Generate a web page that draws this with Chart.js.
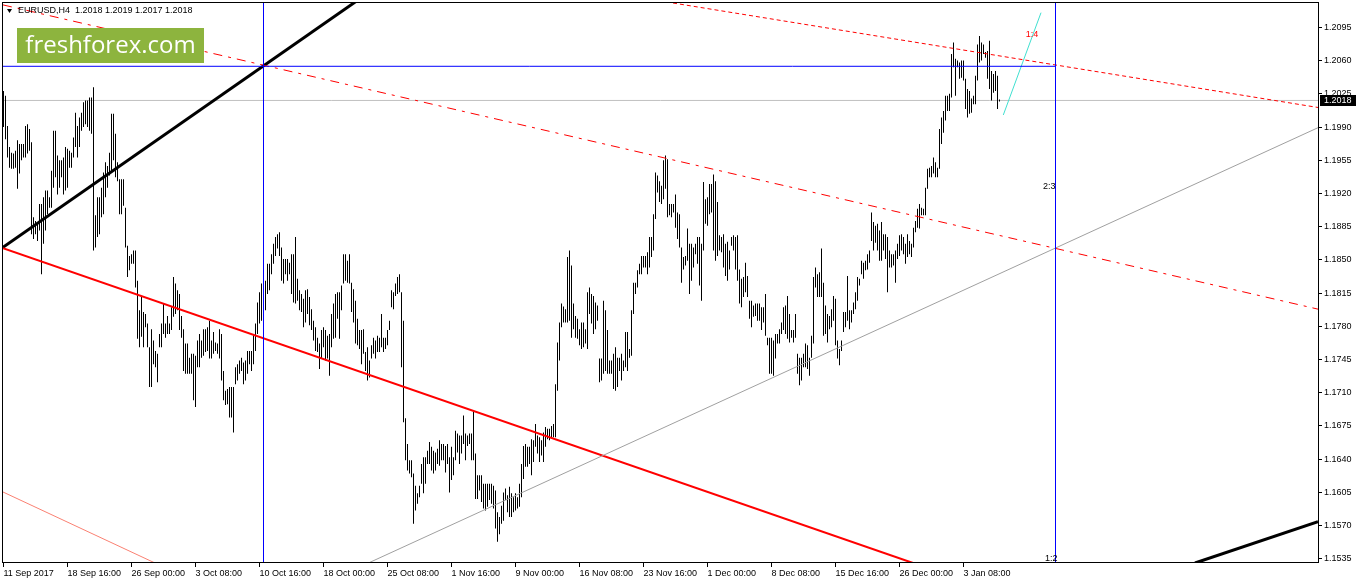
<!DOCTYPE html>
<html>
<head>
<meta charset="utf-8">
<title>EURUSD,H4</title>
<script src="https://cdn.jsdelivr.net/npm/chart.js@4.4.1/dist/chart.umd.min.js"></script>
<style>
  html, body { margin: 0; padding: 0; background: #fff; }
  canvas { display: block; }
</style>
</head>
<body>
<canvas id="chart" width="1358" height="584"></canvas>
<script>
// ============================================================
// DATA — EURUSD H4
// ============================================================
const symbolName = 'EURUSD,H4';
const lastBar = [1.2018, 1.2019, 1.2017, 1.2018]; // open high low close

const highs = [
  1.2028, 1.2023, 1.1991, 1.1969, 1.1963, 1.1962, 1.1965, 1.1976, 1.1972, 1.1972,
  1.1972, 1.1991, 1.1993, 1.1988, 1.1974, 1.1895, 1.1891, 1.1888, 1.1909, 1.1909,
  1.1916, 1.1923, 1.1923, 1.1916, 1.1944, 1.1986, 1.1986, 1.1960, 1.1955, 1.1955,
  1.1958, 1.1969, 1.1967, 1.1965, 1.1963, 1.1979, 1.2005, 1.1991, 1.2000, 1.2005,
  1.2016, 1.2018, 1.2018, 1.2021, 1.2021, 1.2032, 1.1897, 1.1916, 1.1916, 1.1926,
  1.1942, 1.1953, 1.1949, 1.1963, 1.2004, 1.2004, 1.1983, 1.1953, 1.1935, 1.1935,
  1.1935, 1.1905, 1.1865, 1.1854, 1.1856, 1.1860, 1.1860, 1.1828, 1.1797, 1.1812,
  1.1795, 1.1793, 1.1783, 1.1758, 1.1777, 1.1765, 1.1754, 1.1751, 1.1772, 1.1783,
  1.1804, 1.1783, 1.1791, 1.1783, 1.1800, 1.1832, 1.1825, 1.1818, 1.1814, 1.1791,
  1.1777, 1.1762, 1.1762, 1.1747, 1.1751, 1.1751, 1.1749, 1.1765, 1.1772, 1.1765,
  1.1777, 1.1777, 1.1779, 1.1786, 1.1765, 1.1774, 1.1763, 1.1762, 1.1777, 1.1772,
  1.1733, 1.1712, 1.1714, 1.1716, 1.1716, 1.1716, 1.1737, 1.1740, 1.1744, 1.1747,
  1.1742, 1.1744, 1.1754, 1.1754, 1.1754, 1.1772, 1.1783, 1.1805, 1.1816, 1.1825,
  1.1825, 1.1828, 1.1846, 1.1846, 1.1856, 1.1867, 1.1874, 1.1877, 1.1879, 1.1863,
  1.1851, 1.1851, 1.1851, 1.1847, 1.1856, 1.1856, 1.1874, 1.1830, 1.1818, 1.1814,
  1.1809, 1.1818, 1.1819, 1.1811, 1.1798, 1.1786, 1.1779, 1.1768, 1.1762, 1.1776,
  1.1779, 1.1776, 1.1770, 1.1772, 1.1793, 1.1804, 1.1814, 1.1816, 1.1816, 1.1823,
  1.1856, 1.1856, 1.1849, 1.1856, 1.1826, 1.1819, 1.1807, 1.1788, 1.1776, 1.1776,
  1.1777, 1.1753, 1.1758, 1.1744, 1.1760, 1.1768, 1.1765, 1.1770, 1.1768, 1.1793,
  1.1768, 1.1768, 1.1776, 1.1786, 1.1818, 1.1816, 1.1825, 1.1832, 1.1835, 1.1816,
  1.1786, 1.1683, 1.1656, 1.1639, 1.1639, 1.1625, 1.1612, 1.1604, 1.1612, 1.1635,
  1.1642, 1.1642, 1.1649, 1.1658, 1.1653, 1.1649, 1.1647, 1.1651, 1.1660, 1.1656,
  1.1656, 1.1654, 1.1656, 1.1642, 1.1653, 1.1642, 1.1670, 1.1667, 1.1665, 1.1665,
  1.1686, 1.1667, 1.1665, 1.1667, 1.1667, 1.1691, 1.1646, 1.1623, 1.1623, 1.1623,
  1.1614, 1.1614, 1.1614, 1.1614, 1.1614, 1.1612, 1.1607, 1.1584, 1.1579, 1.1591,
  1.1605, 1.1609, 1.1602, 1.1611, 1.1604, 1.1600, 1.1604, 1.1600, 1.1614, 1.1635,
  1.1654, 1.1656, 1.1653, 1.1653, 1.1661, 1.1660, 1.1677, 1.1665, 1.1663, 1.1660,
  1.1668, 1.1674, 1.1672, 1.1672, 1.1675, 1.1677, 1.1719, 1.1763, 1.1784, 1.1804,
  1.1801, 1.1798, 1.1853, 1.1860, 1.1844, 1.1804, 1.1791, 1.1788, 1.1777, 1.1784,
  1.1784, 1.1777, 1.1816, 1.1821, 1.1814, 1.1812, 1.1805, 1.1802, 1.1746, 1.1746,
  1.1807, 1.1797, 1.1776, 1.1744, 1.1744, 1.1751, 1.1758, 1.1747, 1.1747, 1.1751,
  1.1744, 1.1774, 1.1774, 1.1756, 1.1797, 1.1826, 1.1826, 1.1839, 1.1846, 1.1854,
  1.1854, 1.1854, 1.1858, 1.1874, 1.1874, 1.1898, 1.1942, 1.1939, 1.1933, 1.1928,
  1.1955, 1.1960, 1.1956, 1.1909, 1.1909, 1.1909, 1.1919, 1.1900, 1.1898, 1.1863,
  1.1853, 1.1854, 1.1883, 1.1867, 1.1867, 1.1863, 1.1867, 1.1874, 1.1874, 1.1867,
  1.1932, 1.1914, 1.1916, 1.1930, 1.1930, 1.1940, 1.1933, 1.1911, 1.1876, 1.1874,
  1.1877, 1.1867, 1.1869, 1.1860, 1.1874, 1.1876, 1.1874, 1.1876, 1.1840, 1.1830,
  1.1832, 1.1847, 1.1833, 1.1807, 1.1807, 1.1802, 1.1804, 1.1804, 1.1804, 1.1800,
  1.1800, 1.1814, 1.1768, 1.1768, 1.1768, 1.1765, 1.1772, 1.1772, 1.1777, 1.1784,
  1.1800, 1.1802, 1.1812, 1.1793, 1.1776, 1.1776, 1.1793, 1.1751, 1.1747, 1.1747,
  1.1751, 1.1762, 1.1760, 1.1747, 1.1770, 1.1832, 1.1842, 1.1835, 1.1837, 1.1862,
  1.1826, 1.1802, 1.1793, 1.1791, 1.1798, 1.1812, 1.1809, 1.1765, 1.1756, 1.1765,
  1.1795, 1.1795, 1.1833, 1.1797, 1.1797, 1.1805, 1.1816, 1.1832, 1.1830, 1.1849,
  1.1847, 1.1849, 1.1856, 1.1860, 1.1900, 1.1890, 1.1886, 1.1888, 1.1881, 1.1890,
  1.1877, 1.1877, 1.1874, 1.1860, 1.1856, 1.1856, 1.1860, 1.1867, 1.1876, 1.1877,
  1.1874, 1.1867, 1.1877, 1.1870, 1.1867, 1.1884, 1.1891, 1.1904, 1.1909, 1.1905,
  1.1904, 1.1926, 1.1946, 1.1947, 1.1949, 1.1958, 1.1953, 1.1947, 1.1988, 1.2000,
  1.2007, 1.2023, 1.2023, 1.2025, 1.2067, 1.2079, 1.2062, 1.2060, 1.2058, 1.2060,
  1.2060, 1.2041, 1.2030, 1.2028, 1.2020, 1.2023, 1.2044, 1.2077, 1.2086, 1.2079,
  1.2077, 1.2069, 1.2070, 1.2081, 1.2049, 1.2046, 1.2049, 1.2044, 1.2019
];

const lows = [
  1.1990, 1.1977, 1.1958, 1.1947, 1.1946, 1.1946, 1.1947, 1.1925, 1.1941, 1.1955,
  1.1958, 1.1958, 1.1962, 1.1965, 1.1877, 1.1872, 1.1877, 1.1870, 1.1881, 1.1835,
  1.1867, 1.1881, 1.1898, 1.1905, 1.1905, 1.1926, 1.1937, 1.1919, 1.1926, 1.1937,
  1.1919, 1.1923, 1.1926, 1.1947, 1.1947, 1.1958, 1.1969, 1.1958, 1.1969, 1.1986,
  1.1990, 1.1993, 1.1990, 1.1986, 1.1983, 1.1860, 1.1863, 1.1874, 1.1877, 1.1895,
  1.1898, 1.1916, 1.1926, 1.1939, 1.1944, 1.1955, 1.1937, 1.1933, 1.1898, 1.1898,
  1.1907, 1.1863, 1.1832, 1.1839, 1.1846, 1.1846, 1.1821, 1.1767, 1.1758, 1.1769,
  1.1758, 1.1779, 1.1758, 1.1716, 1.1716, 1.1740, 1.1737, 1.1721, 1.1758, 1.1758,
  1.1772, 1.1768, 1.1772, 1.1772, 1.1776, 1.1790, 1.1793, 1.1797, 1.1776, 1.1768,
  1.1733, 1.1730, 1.1730, 1.1730, 1.1730, 1.1702, 1.1695, 1.1737, 1.1737, 1.1747,
  1.1749, 1.1753, 1.1754, 1.1746, 1.1746, 1.1751, 1.1754, 1.1751, 1.1746, 1.1723,
  1.1702, 1.1697, 1.1698, 1.1684, 1.1684, 1.1668, 1.1719, 1.1723, 1.1730, 1.1733,
  1.1719, 1.1723, 1.1730, 1.1740, 1.1733, 1.1740, 1.1754, 1.1772, 1.1783, 1.1786,
  1.1800, 1.1797, 1.1814, 1.1818, 1.1835, 1.1846, 1.1854, 1.1862, 1.1854, 1.1828,
  1.1825, 1.1835, 1.1828, 1.1835, 1.1814, 1.1805, 1.1804, 1.1807, 1.1797, 1.1795,
  1.1779, 1.1784, 1.1793, 1.1781, 1.1776, 1.1765, 1.1754, 1.1753, 1.1735, 1.1746,
  1.1758, 1.1744, 1.1746, 1.1728, 1.1758, 1.1767, 1.1768, 1.1788, 1.1767, 1.1797,
  1.1825, 1.1828, 1.1826, 1.1825, 1.1795, 1.1784, 1.1762, 1.1760, 1.1756, 1.1740,
  1.1751, 1.1733, 1.1723, 1.1726, 1.1746, 1.1751, 1.1746, 1.1753, 1.1753, 1.1758,
  1.1753, 1.1756, 1.1760, 1.1776, 1.1800, 1.1798, 1.1812, 1.1814, 1.1816, 1.1737,
  1.1679, 1.1639, 1.1628, 1.1625, 1.1621, 1.1572, 1.1586, 1.1593, 1.1600, 1.1614,
  1.1604, 1.1614, 1.1635, 1.1635, 1.1628, 1.1625, 1.1628, 1.1635, 1.1633, 1.1639,
  1.1639, 1.1626, 1.1635, 1.1605, 1.1618, 1.1623, 1.1639, 1.1647, 1.1635, 1.1646,
  1.1656, 1.1639, 1.1654, 1.1656, 1.1639, 1.1639, 1.1598, 1.1598, 1.1607, 1.1595,
  1.1588, 1.1586, 1.1590, 1.1597, 1.1593, 1.1588, 1.1567, 1.1553, 1.1561, 1.1572,
  1.1575, 1.1597, 1.1584, 1.1579, 1.1579, 1.1584, 1.1586, 1.1588, 1.1590, 1.1600,
  1.1619, 1.1632, 1.1632, 1.1635, 1.1623, 1.1637, 1.1653, 1.1646, 1.1637, 1.1644,
  1.1637, 1.1653, 1.1661, 1.1660, 1.1663, 1.1663, 1.1663, 1.1712, 1.1744, 1.1779,
  1.1784, 1.1784, 1.1784, 1.1786, 1.1768, 1.1777, 1.1768, 1.1767, 1.1760, 1.1756,
  1.1758, 1.1762, 1.1756, 1.1793, 1.1783, 1.1772, 1.1777, 1.1786, 1.1721, 1.1723,
  1.1730, 1.1733, 1.1730, 1.1730, 1.1730, 1.1714, 1.1712, 1.1716, 1.1733, 1.1723,
  1.1733, 1.1737, 1.1733, 1.1747, 1.1749, 1.1793, 1.1814, 1.1821, 1.1835, 1.1835,
  1.1842, 1.1842, 1.1835, 1.1842, 1.1853, 1.1860, 1.1893, 1.1921, 1.1911, 1.1909,
  1.1914, 1.1925, 1.1895, 1.1897, 1.1895, 1.1900, 1.1884, 1.1872, 1.1863, 1.1826,
  1.1840, 1.1844, 1.1849, 1.1814, 1.1828, 1.1842, 1.1856, 1.1846, 1.1823, 1.1807,
  1.1860, 1.1888, 1.1886, 1.1898, 1.1900, 1.1860, 1.1849, 1.1854, 1.1860, 1.1858,
  1.1842, 1.1833, 1.1828, 1.1840, 1.1865, 1.1860, 1.1840, 1.1828, 1.1804, 1.1800,
  1.1811, 1.1816, 1.1811, 1.1788, 1.1779, 1.1790, 1.1791, 1.1786, 1.1786, 1.1776,
  1.1784, 1.1770, 1.1760, 1.1730, 1.1730, 1.1728, 1.1746, 1.1762, 1.1762, 1.1772,
  1.1776, 1.1772, 1.1767, 1.1763, 1.1768, 1.1763, 1.1768, 1.1730, 1.1718, 1.1723,
  1.1737, 1.1737, 1.1735, 1.1728, 1.1747, 1.1762, 1.1821, 1.1811, 1.1811, 1.1811,
  1.1770, 1.1772, 1.1763, 1.1777, 1.1779, 1.1786, 1.1760, 1.1746, 1.1739, 1.1754,
  1.1774, 1.1779, 1.1786, 1.1777, 1.1784, 1.1793, 1.1798, 1.1807, 1.1823, 1.1835,
  1.1830, 1.1839, 1.1840, 1.1847, 1.1870, 1.1860, 1.1868, 1.1860, 1.1849, 1.1849,
  1.1860, 1.1851, 1.1816, 1.1842, 1.1842, 1.1844, 1.1826, 1.1851, 1.1854, 1.1860,
  1.1856, 1.1846, 1.1853, 1.1856, 1.1853, 1.1863, 1.1879, 1.1884, 1.1883, 1.1897,
  1.1897, 1.1897, 1.1925, 1.1937, 1.1937, 1.1941, 1.1937, 1.1937, 1.1946, 1.1972,
  1.1984, 1.1997, 1.2007, 1.2007, 1.2021, 1.2053, 1.2023, 1.2053, 1.2041, 1.2042,
  1.2039, 1.2009, 1.2000, 1.2004, 1.2005, 1.2014, 1.2014, 1.2039, 1.2058, 1.2060,
  1.2067, 1.2063, 1.2041, 1.2030, 1.2018, 1.2026, 1.2028, 1.2009, 1.2017
];

// time axis: one label every 32 bars
const dateLabels = [
  '11 Sep 2017', '18 Sep 16:00', '26 Sep 00:00', '3 Oct 08:00', '10 Oct 16:00',
  '18 Oct 00:00', '25 Oct 08:00', '1 Nov 16:00', '9 Nov 00:00', '16 Nov 08:00',
  '23 Nov 16:00', '1 Dec 00:00', '8 Dec 08:00', '15 Dec 16:00', '26 Dec 00:00',
  '3 Jan 08:00'
];
const dateTickBars = [0, 32, 64, 96, 128, 160, 192, 224, 256, 288, 320, 352, 384, 416, 448, 480];

// price axis
const priceTicks = [
  1.1535, 1.1570, 1.1605, 1.1640, 1.1675, 1.1710, 1.1745, 1.1780, 1.1815,
  1.1850, 1.1885, 1.1920, 1.1955, 1.1990, 1.2025, 1.2060, 1.2095
];
const priceRange = [1.15306, 1.21207];
const barRange = [-0.25, 657.25];   // visible bar slots incl. the empty right shift

// drawn objects, as [bar index, price] pairs
const blackTrendUp     = [[-0.25, 1.18633], [176, 1.2122]];
const blackTrendLow    = [[595.75, 1.15306], [657.25, 1.15741]];
const redTrendDown     = [[-0.25, 1.18622], [454.75, 1.15306]];
const salmonTrend      = [[-0.25, 1.16054], [75.75, 1.15306]];
const redDashDotTrend  = [[-0.25, 1.21187], [657.25, 1.17981]];
const redDashTrend     = [[334.75, 1.21207], [657.25, 1.20106]];
const grayTrendUp      = [[182.45, 1.15306], [657.25, 1.19893]];
const cyanTrend        = [[499.9, 1.20027], [518.75, 1.21105]];
const blueLevel        = [[-0.25, 1.2054], [526, 1.2054]];
const bidLevel         = [[-0.25, 1.2018], [657.25, 1.2018]];
const verticalBars     = [130, 526];

const ratioTexts  = ['1:4', '2:3', '1:2'];
const ratioBars   = [514.25, 526, 527];
const ratioPrices = [1.2087, 1.19268, 1.15348];

// ============================================================
// CHART
// ============================================================
const axisFont = { family: "'Liberation Sans', Arial, sans-serif", size: 9 };
const FONT = "9px 'Liberation Sans', Arial, sans-serif";

function segment(points, color, width, dash, order) {
  return {
    type: 'line',
    data: points.map(([x, y]) => ({ x, y })),
    borderColor: color,
    borderWidth: width,
    borderDash: dash || [],
    pointRadius: 0,
    tension: 0,
    fill: false,
    clip: 0,
    order: order || 1
  };
}

const datasets = [
  segment(bidLevel, '#c0c0c0', 1, null, 20),
  {
    type: 'bar',
    data: highs.map((h, i) => ({ x: i, y: [lows[i], h] })),
    backgroundColor: '#000000',
    borderWidth: 0,
    barThickness: 1,
    inflateAmount: 0,
    order: 10
  },
  ...verticalBars.map(b => segment([[b, priceRange[0]], [b, priceRange[1]]], '#0000ff', 1)),
  segment(blueLevel, '#0000ff', 1),
  segment(grayTrendUp, '#a0a0a0', 1),
  segment(salmonTrend, '#fa8072', 1),
  segment(redDashDotTrend, '#ff0000', 1, [9, 6, 3, 6]),
  segment(redDashTrend, '#ff0000', 1, [4, 3]),
  segment(cyanTrend, '#40e0d0', 1),
  segment(redTrendDown, '#ff0000', 2),
  segment(blackTrendUp, '#000000', 3),
  segment(blackTrendLow, '#000000', 3)
];

const mt4Overlay = {
  id: 'mt4Overlay',
  beforeDraw(chart) {
    const { ctx, width, height } = chart;
    ctx.save();
    ctx.fillStyle = '#ffffff';
    ctx.fillRect(0, 0, width, height);
    ctx.restore();
  },
  afterDraw(chart) {
    const { ctx, chartArea: a, scales: { x, y } } = chart;
    ctx.save();

    // chart frame
    ctx.strokeStyle = '#000';
    ctx.lineWidth = 1;
    ctx.strokeRect(a.left - 0.5, a.top - 0.5, a.right - a.left + 1, a.bottom - a.top);

    // ratio labels next to the vertical line
    ctx.font = FONT;
    ctx.textBaseline = 'middle';
    ratioTexts.forEach((t, i) => {
      ctx.fillStyle = i === 0 ? '#ff0000' : '#000000';
      ctx.textAlign = i === 0 ? 'center' : 'right';
      ctx.fillText(t, x.getPixelForValue(ratioBars[i]), y.getPixelForValue(ratioPrices[i]));
    });

    // header: symbol + last bar OHLC
    ctx.fillStyle = '#000';
    ctx.beginPath();
    ctx.moveTo(a.left + 4, a.top + 6);
    ctx.lineTo(a.left + 9, a.top + 6);
    ctx.lineTo(a.left + 6.5, a.top + 10);
    ctx.closePath();
    ctx.fill();
    ctx.textAlign = 'left';
    ctx.fillText(symbolName + '  ' + lastBar.map(v => v.toFixed(4)).join(' '), a.left + 15, a.top + 8);

    // logo
    ctx.fillStyle = '#8db43e';
    ctx.fillRect(a.left + 14, a.top + 25, 187, 35);
    ctx.fillStyle = '#ffffff';
    ctx.font = "24px 'Open Sans', 'Noto Sans', sans-serif";
    ctx.textAlign = 'center';
    ctx.textBaseline = 'alphabetic';
    ctx.fillText('freshforex.com', a.left + 107.5, a.top + 50);

    // current price tag on the price axis
    const py = Math.floor(y.getPixelForValue(lastBar[3]));
    ctx.fillStyle = '#000';
    ctx.fillRect(a.right + 2, py - 5, 36, 11);
    ctx.fillStyle = '#fff';
    ctx.font = FONT;
    ctx.textAlign = 'left';
    ctx.textBaseline = 'middle';
    ctx.fillText(lastBar[3].toFixed(4), a.right + 6, py + 0.5);

    ctx.restore();
  }
};

new Chart(document.getElementById('chart'), {
  type: 'bar',
  data: { datasets },
  options: {
    responsive: false,
    animation: false,
    devicePixelRatio: 1,
    events: [],
    layout: { padding: { left: 3, top: 3, right: 0, bottom: 0 } },
    plugins: { legend: { display: false }, tooltip: { enabled: false } },
    scales: {
      x: {
        type: 'linear',
        min: barRange[0],
        max: barRange[1],
        offset: false,
        grid: { drawOnChartArea: false, drawTicks: true, tickLength: 4, tickColor: '#000', offset: false },
        border: { display: false },
        ticks: {
          autoSkip: false, maxRotation: 0, minRotation: 0, align: 'start',
          padding: 1, color: '#000', font: axisFont,
          callback: (v, i) => dateLabels[i]
        },
        afterBuildTicks: s => { s.ticks = dateTickBars.map(value => ({ value })); },
        afterFit: s => { s.height = 21; s.paddingLeft = 0; s.paddingRight = 0; }
      },
      y: {
        type: 'linear',
        position: 'right',
        min: priceRange[0],
        max: priceRange[1],
        grid: { drawOnChartArea: false, drawTicks: true, tickLength: 4, tickColor: '#000' },
        border: { display: false },
        ticks: {
          autoSkip: false, padding: 2, color: '#000', font: axisFont,
          callback: v => v.toFixed(4)
        },
        afterBuildTicks: s => { s.ticks = priceTicks.map(value => ({ value })); },
        afterFit: s => { s.width = 40; s.paddingTop = 0; s.paddingBottom = 0; }
      }
    }
  },
  plugins: [mt4Overlay]
});
</script>
</body>
</html>
